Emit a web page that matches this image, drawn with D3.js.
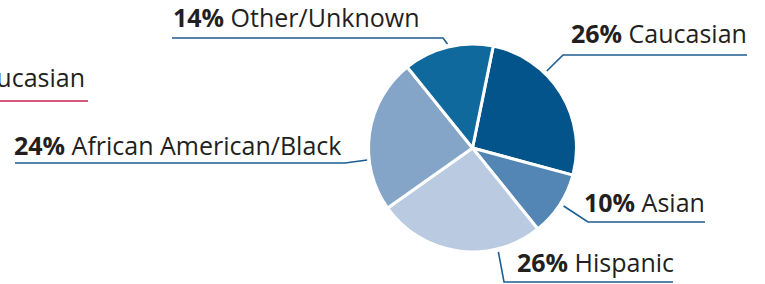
<!DOCTYPE html>
<html>
<head>
<meta charset="utf-8">
<script src="https://cdn.jsdelivr.net/npm/d3@7"></script>
<style>
  body { margin: 0; background: #fff; }
  svg { display: block; }
  text { font-family: "Open Sans", sans-serif; font-size: 25px; fill: #231f20; }
</style>
</head>
<body>
<div id="vis"></div>
<script>
var width = 765
var height = 284

// data
var categories = ["Caucasian", "Asian", "Hispanic", "African American/Black", "Other/Unknown"]
var percents = [26, 10, 26, 24, 14]
var colors = ["#03548a", "#5386b4", "#b9cae1", "#85a5c8", "#10699d"]

// label placement (layout only)
var labelPos = {
  "Caucasian":              {tx: 571, ty: 43,  ly: 55,  x1: 563, x2: 747, ang: 44,    r: 107},
  "Asian":                  {tx: 584, ty: 212, ly: 222, x1: 588, x2: 705, ang: 122.5, r: 108},
  "Hispanic":               {tx: 517, ty: 272, ly: 282, x1: 504, x2: 673, ang: 166,   r: 107},
  "African American/Black": {tx: 14,  ty: 155, ly: 163, x1: 345, x2: 15,  ang: 263.5, r: 106},
  "Other/Unknown":          {tx: 173, ty: 27,  ly: 38,  x1: 443, x2: 172, ang: 346.5, r: 107}
}

var cx = 472.5, cy = 148, radius = 104

var svg = d3.select("#vis")
  .append("svg")
  .attr("width", width)
  .attr("height", height)

var rows = categories.map(function(c, i) { return {name: c, value: percents[i], color: colors[i]} })

var pie = d3.pie()
  .sort(null)
  .value(d => d.value)
  .startAngle(11.5 * Math.PI / 180)
  .endAngle(11.5 * Math.PI / 180 + 2 * Math.PI)

var arc = d3.arc().innerRadius(0).outerRadius(radius)

var g = svg.append("g").attr("transform", `translate(${cx},${cy})`)

g.selectAll("path")
  .data(pie(rows))
  .enter().append("path")
    .attr("d", arc)
    .attr("fill", d => d.data.color)
    .attr("stroke", "#fff")
    .attr("stroke-width", 3)
    .attr("stroke-linejoin", "round")

// leaders + underlines
rows.forEach(function(d) {
  var p = labelPos[d.name]
  var pt = d3.pointRadial(p.ang * Math.PI / 180, p.r)
  var line = d3.line()
  svg.append("path")
    .attr("d", line([[cx + pt[0], cy + pt[1]], [p.x1, p.ly], [p.x2, p.ly]]))
    .attr("fill", "none")
    .attr("stroke", "#1b5e93")
    .attr("stroke-width", 1.6)

  var t = svg.append("text")
    .attr("x", p.tx)
    .attr("y", p.ty)
  t.append("tspan").attr("font-weight", "bold").text(d.value + "%")
  t.append("tspan").text(" " + d.name)
})

// piece of the neighbouring chart, cut off at the left edge
svg.append("text")
  .attr("x", 85)
  .attr("y", 87)
  .attr("text-anchor", "end")
  .text("Caucasian")
svg.append("line")
  .attr("x1", 0).attr("x2", 88)
  .attr("y1", 101).attr("y2", 101)
  .attr("stroke", "#c7224f")
  .attr("stroke-width", 1.6)
</script>
</body>
</html>
